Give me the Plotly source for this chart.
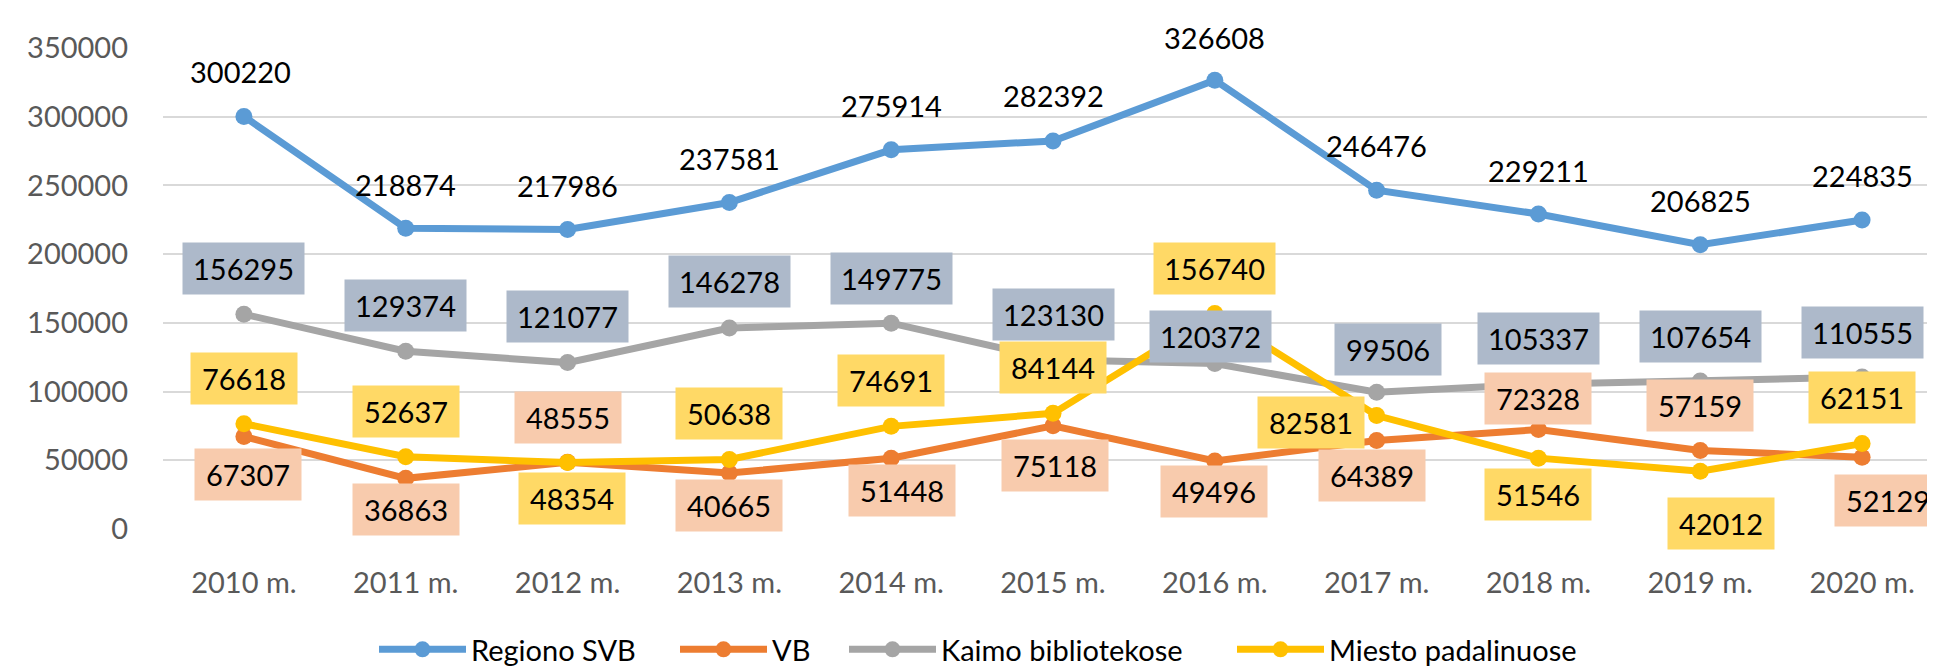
import plotly.graph_objects as go

# --- data ---
years = ["2010 m.", "2011 m.", "2012 m.", "2013 m.", "2014 m.", "2015 m.",
         "2016 m.", "2017 m.", "2018 m.", "2019 m.", "2020 m."]
regiono_svb = [300220, 218874, 217986, 237581, 275914, 282392, 326608, 246476, 229211, 206825, 224835]
vb = [67307, 36863, 48555, 40665, 51448, 75118, 49496, 64389, 72328, 57159, 52129]
kaimo = [156295, 129374, 121077, 146278, 149775, 123130, 120372, 99506, 105337, 107654, 110555]
miesto = [76618, 52637, 48354, 50638, 74691, 84144, 156740, 82581, 51546, 42012, 62151]

# label placement (pixel shift from the point: dx right, dy down)
regiono_off = [(-3, -45), (0, -44), (0, -44), (0, -44), (0, -44), (0, -45),
               (0, -43), (0, -45), (0, -44), (0, -44), (0, -45)]
vb_off = [(4, 38), (0, 31), (0, -45), (0, 32), (11, 32), (2, 40),
          (-1, 31), (-5, 35), (0, -31), (0, -45), (26, 43)]
kaimo_off = [(0, -46), (0, -46), (0, -46), (0, -46), (0, -45), (0, -45),
             (-4, -27), (11, -43), (0, -46), (0, -45), (0, -45)]
miesto_off = [(0, -45), (0, -45), (4, 36), (0, -46), (0, -46), (0, -46),
              (0, -45), (-66, 7), (0, 36), (21, 52), (0, -46)]

FONT = "Lato, 'Open Sans', sans-serif"
L, R, T, B = 155, 0, 40, 138
PLOT_W = 1935 - L - R

series = [
    ("Regiono SVB", regiono_svb, "#5B9BD5", None, regiono_off, 366),
    ("VB", vb, "#ED7D31", "#F8CBAD", vb_off, 667),
    ("Kaimo bibliotekose", kaimo, "#A5A5A5", "#ADB9CA", kaimo_off, 836),
    ("Miesto padalinuose", miesto, "#FFC000", "#FFD966", miesto_off, 1224),
]

fig = go.Figure()
annotations = []
legends = {}
for i, (name, vals, color, box, offs, leg_x) in enumerate(series):
    leg_id = "legend" if i == 0 else f"legend{i + 1}"
    fig.add_trace(go.Scatter(
        x=years, y=vals, name=name, mode="lines+markers",
        line=dict(color=color, width=7),
        marker=dict(color=color, size=17),
        cliponaxis=False, legend=leg_id,
    ))
    legends[leg_id] = dict(
        orientation="h", x=(leg_x - L) / PLOT_W, xanchor="left",
        y=-0.2515, yanchor="middle", itemwidth=87, bgcolor="rgba(0,0,0,0)",
        font=dict(family=FONT, size=29, color="#000000"))
    for x, v, (dx, dy) in zip(years, vals, offs):
        txt = str(v)
        ann = dict(x=x, y=v, xref="x", yref="y", text=txt, showarrow=False,
                   xshift=dx, yshift=-dy,
                   font=dict(family=FONT, size=29, color="#000000"))
        if box:
            ann.update(bgcolor=box, width=15 * len(txt) + 31, height=51, borderpad=0)
        annotations.append(ann)

fig.update_layout(
    width=1935, height=667,
    margin=dict(l=L, r=R, t=T, b=B),
    paper_bgcolor="white", plot_bgcolor="white",
    font=dict(family=FONT, size=29, color="#595959"),
    annotations=annotations,
    showlegend=True,
    xaxis=dict(type="category", range=[-0.5, 10.5], showgrid=False, zeroline=False,
               showline=False, ticks="", ticklabelstandoff=34,
               tickfont=dict(family=FONT, size=29, color="#595959")),
    yaxis=dict(range=[0, 350000], dtick=50000, tickformat="d", showgrid=True,
               gridcolor="#D9D9D9", gridwidth=2, zeroline=False, showline=False,
               ticks="", ticklabelstandoff=34,
               tickfont=dict(family=FONT, size=29, color="#595959")),
    **legends,
)

fig.write_html("out.html")
